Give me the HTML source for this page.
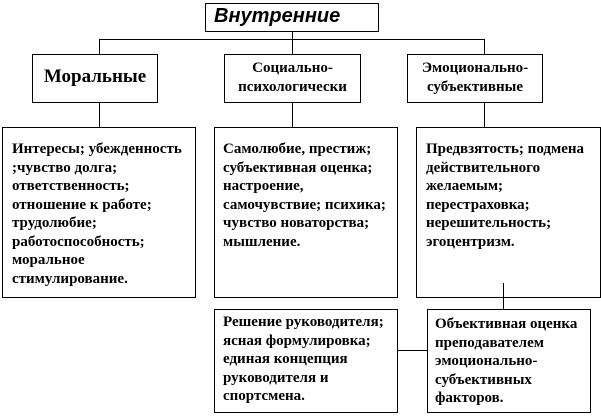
<!DOCTYPE html>
<html><head><meta charset="utf-8"><style>
body{margin:0;width:601px;height:416px;background:#fff;position:relative;overflow:hidden;font-family:"Liberation Serif",serif;font-weight:bold;color:#000}
.b{position:absolute;border:1px solid #000;box-sizing:border-box;background:#fff}
.l{position:absolute;background:#000}
.t{position:absolute;font-size:15px;line-height:18.5px;letter-spacing:0px;white-space:nowrap}
.c{text-align:center}
</style></head><body>
<div class="l" style="left:292px;top:31px;width:1px;height:96px"></div>
<div class="l" style="left:99px;top:39px;width:386px;height:1px"></div>
<div class="l" style="left:99px;top:39px;width:1px;height:88px"></div>
<div class="l" style="left:484px;top:39px;width:1px;height:88px"></div>
<div class="l" style="left:397px;top:350px;width:30px;height:1px"></div>

<div class="b" style="left:205px;top:3px;width:174px;height:29px"></div>
<div class="t" style="left:214px;top:5px;font-family:'Liberation Sans',sans-serif;font-style:italic;font-size:20px;line-height:22px">Внутренние</div>

<div class="b" style="left:32px;top:54px;width:126px;height:49px"></div>
<div class="t c" style="left:32px;top:66px;width:126px;font-size:19px;line-height:22px">Моральные</div>
<div class="b" style="left:224px;top:54px;width:137px;height:49px"></div>
<div class="t c" style="left:224px;top:59px;width:137px;line-height:19px">Социально-<br>психологически</div>
<div class="b" style="left:407px;top:54px;width:136px;height:49px"></div>
<div class="t c" style="left:407px;top:59px;width:136px;line-height:19px">Эмоционально-<br>субъективные</div>

<div class="b" style="left:2px;top:127px;width:194px;height:171px"></div>
<div class="t" style="left:12px;top:140px">Интересы; убежденность<br>;чувство долга;<br>ответственность;<br>отношение к работе;<br>трудолюбие;<br>работоспособность;<br>моральное<br>стимулирование.</div>
<div class="b" style="left:214px;top:127px;width:184px;height:171px"></div>
<div class="t" style="left:223px;top:140px">Самолюбие, престиж;<br>субъективная оценка;<br>настроение,<br>самочувствие; психика;<br>чувство новаторства;<br>мышление.</div>
<div class="b" style="left:416px;top:127px;width:185px;height:171px"></div>
<div class="t" style="left:426px;top:140px">Предвзятость; подмена<br>действительного<br>желаемым;<br>перестраховка;<br>нерешительность;<br>эгоцентризм.</div>

<div class="b" style="left:214px;top:309px;width:184px;height:104px"></div>
<div class="t" style="left:223px;top:313px">Решение руководителя;<br>ясная формулировка;<br>единая концепция<br>руководителя и<br>спортсмена.</div>
<div class="b" style="left:427px;top:309px;width:164px;height:104px"></div>
<div class="t" style="left:435px;top:315px">Объективная оценка<br>преподавателем<br>эмоционально-<br>субъективных<br>факторов.</div>
<div class="l" style="left:503px;top:283px;width:1px;height:27px"></div>
</body></html>
